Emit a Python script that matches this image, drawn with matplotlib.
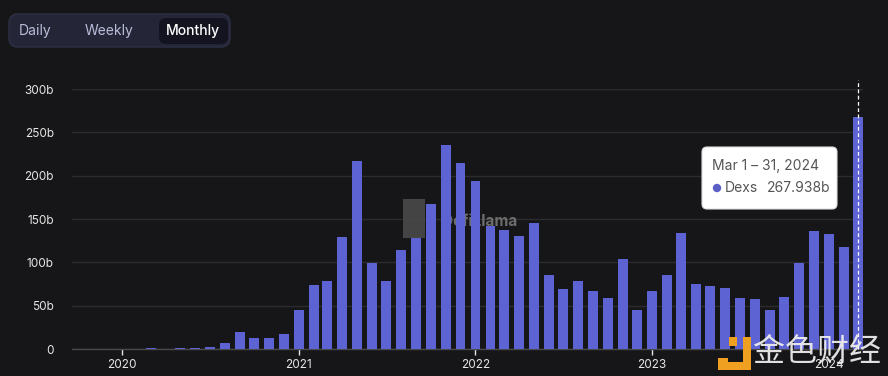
import matplotlib
matplotlib.use("Agg")
import matplotlib.pyplot as plt
import matplotlib.dates as mdates
from matplotlib.patches import FancyBboxPatch, Rectangle, Circle
import pandas as pd

plt.rcParams['font.family'] = ['Inter', 'DejaVu Sans']

# ---- data (monthly DEX volume, billions USD) ----
start_month = "2019-10-01"
volumes = [
    0.2, 0.2, 0.2,                                                    # 2019 Oct-Dec
    0.3, 0.4, 0.6, 0.5, 0.8, 1.0, 2.0, 7.0, 20.0, 13.0, 13.0, 17.0,   # 2020
    44.5, 74.0, 78.5, 129.0, 217.0, 99.0, 78.0, 114.0, 128.0, 167.0, 235.0, 215.0,  # 2021
    194.0, 142.0, 137.0, 130.5, 145.5, 85.5, 69.0, 78.5, 67.0, 59.0, 104.0, 45.0,   # 2022
    67.5, 85.5, 133.5, 75.0, 72.7, 70.0, 58.8, 58.0, 45.0, 60.4, 98.8, 136.5,       # 2023
    132.7, 118.0, 267.938,                                            # 2024 Jan-Mar
]
months = pd.date_range(start_month, periods=len(volumes), freq="MS")
year_ticks = ["2020", "2021", "2022", "2023", "2024"]
y_ticks = [0, 50, 100, 150, 200, 250, 300]
y_labels = ["0", "50b", "100b", "150b", "200b", "250b", "300b"]
buttons = ["Daily", "Weekly", "Monthly"]
tooltip_title = "Mar 1 – 31, 2024"
tooltip_series = "Dexs"
tooltip_value = "267.938b"

BG = "#161618"
BAR = "#5d63d3"
GRID = "#2c2c30"

W, H = 888, 376
fig = plt.figure(figsize=(W / 100, H / 100), dpi=100, facecolor=BG)

ax = fig.add_axes([72 / W, 1 - 349 / H, (863 - 72) / W, (349 - 89) / H])
ax.set_facecolor(BG)

x = mdates.date2num(months)
bar_w = 20.5
ax.bar(x, volumes, width=bar_w, color=BAR, edgecolor="none", zorder=3)

ax.set_xlim(x[0] - bar_w / 2 - 0.5, x[-1] + bar_w / 2 + 0.5)
ax.set_ylim(0, 300)
ax.set_yticks(y_ticks)
ax.set_yticklabels(y_labels)
ax.yaxis.grid(True, color=GRID, linewidth=1.0, zorder=0)
ax.set_axisbelow(True)

tick_pos = [mdates.date2num(pd.Timestamp(f"{y}-01-01")) for y in year_ticks]
ax.set_xticks(tick_pos)
ax.set_xticklabels(year_ticks)

for s in ["top", "right", "left"]:
    ax.spines[s].set_visible(False)
ax.spines["bottom"].set_color("#4a4a4e")
ax.spines["bottom"].set_linewidth(1.0)
ax.tick_params(axis="y", length=0, pad=13, labelcolor="#e6e6e6", labelsize=8.5)
ax.tick_params(axis="x", length=4, width=1, color="#e6e6e6", pad=3,
               labelcolor="#e6e6e6", labelsize=8.5)

# hover line on last bar
ax.axvline(x[-1], ymin=0, ymax=(349 - 80) / 260, color="white", linestyle=(0, (3, 2)),
           linewidth=0.9, clip_on=False, zorder=4)

# DefiLlama watermark (behind bars)
ax.text(0.515, 0.49, "DefiLlama", transform=ax.transAxes, fontsize=11, fontweight="bold",
        color="#7c7c7c", ha="center", va="center", zorder=1, alpha=0.85)

# ---- overlay in pixel coordinates ----
ov = fig.add_axes([0, 0, 1, 1])
ov.set_xlim(0, W)
ov.set_ylim(H, 0)
ov.axis("off")
ov.patch.set_alpha(0)

# icon of watermark
ov.add_patch(Rectangle((403, 199), 22, 39, facecolor="#4a4a4a", edgecolor="none", alpha=0.9, zorder=5))

# buttons
ov.add_patch(FancyBboxPatch((9, 14), 221, 33, boxstyle="round,pad=0,rounding_size=9",
                            facecolor="#242638", edgecolor="#2e3146", linewidth=1))
ov.add_patch(FancyBboxPatch((159, 18), 69, 26, boxstyle="round,pad=0,rounding_size=7",
                            facecolor="#131420", edgecolor="none"))
ov.text(35, 31, buttons[0], color="#b9bdd8", fontsize=10, ha="center", va="center")
ov.text(109, 31, buttons[1], color="#b9bdd8", fontsize=10, ha="center", va="center")
ov.text(193, 31, buttons[2], color="#ffffff", fontsize=10, ha="center", va="center",
        fontweight="medium")

# tooltip
ov.add_patch(FancyBboxPatch((702, 147), 135, 62, boxstyle="round,pad=0,rounding_size=5",
                            facecolor="white", edgecolor="#dddddd", linewidth=0.8, zorder=6))
ov.text(712, 166, tooltip_title, color="#555555", fontsize=10, ha="left", va="center", zorder=7)
ov.add_patch(Circle((717, 188), 4.2, facecolor="#5a5fc4", edgecolor="none", zorder=7))
ov.text(725, 188, tooltip_series, color="#555555", fontsize=10, ha="left", va="center", zorder=7)
ov.text(767, 188, tooltip_value, color="#555555", fontsize=10, ha="left", va="center", zorder=7)

# 金色财经 watermark
ov.add_patch(Rectangle((718, 358), 10, 10, facecolor="#f0a020", edgecolor="none", zorder=8))
ov.add_patch(Rectangle((729, 337), 8, 9, facecolor="#f0a020", edgecolor="none", zorder=8))
ov.add_patch(Rectangle((743, 337), 8, 33, facecolor="#f0a020", edgecolor="none", zorder=8))
ov.add_patch(Rectangle((718, 362), 33, 8, facecolor="#f0a020", edgecolor="none", zorder=8))
ov.text(817, 352, "金色财经", family=["Noto Sans CJK SC", "DejaVu Sans"], fontsize=23,
        color="#ececec", ha="center", va="center", zorder=8, alpha=0.95)

fig.savefig("out.png", dpi=100, facecolor=BG)
